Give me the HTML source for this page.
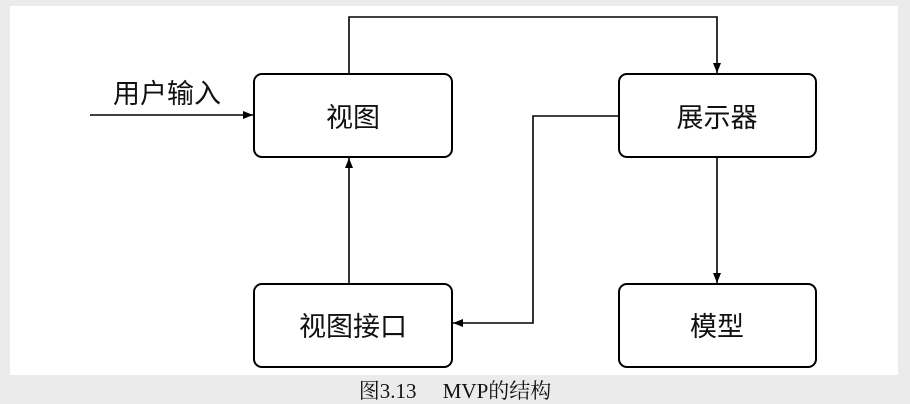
<!DOCTYPE html>
<html><head><meta charset="utf-8"><style>
html,body{margin:0;padding:0;background:#ebebeb;}
body{width:910px;height:404px;position:relative;overflow:hidden;font-family:"Liberation Serif","Noto Serif CJK SC",serif;}
</style></head><body>
<svg width="910" height="404" xmlns="http://www.w3.org/2000/svg" style="position:absolute;left:0;top:0">
<defs><marker id="a" markerWidth="10" markerHeight="8" refX="10" refY="4" orient="auto" markerUnits="userSpaceOnUse"><path d="M0,0 L10,4 L0,8 Z" fill="#000"/></marker></defs>
<rect x="10" y="6" width="888" height="369" fill="#fff"/>
<g fill="none" stroke="#000" stroke-width="2">
<rect x="254" y="74" width="198" height="83" rx="8"/>
<rect x="619" y="74" width="197" height="83" rx="8"/>
<rect x="254" y="284" width="198" height="83" rx="8"/>
<rect x="619" y="284" width="197" height="83" rx="8"/>
</g>
<g fill="none" stroke="#000" stroke-width="1.6">
<path d="M349,74 V17 H717 V73" marker-end="url(#a)"/>
<path d="M90,115 H253" marker-end="url(#a)"/>
<path d="M349,284 V158" marker-end="url(#a)"/>
<path d="M619,116 H533 V323 H453" marker-end="url(#a)"/>
<path d="M717,157 V283" marker-end="url(#a)"/>
</g>
<g font-family="Liberation Sans,Noto Sans CJK SC,sans-serif" font-size="27" text-anchor="middle" fill="#111">
<text x="353" y="127">视图</text>
<text x="717" y="127">展示器</text>
<text x="353" y="336">视图接口</text>
<text x="717" y="336">模型</text>
<text x="167" y="103" font-size="27">用户输入</text>
</g>
<text x="455" y="398" font-size="21" text-anchor="middle" fill="#111" font-family="Liberation Serif,Noto Serif CJK SC,serif">图3.13　 MVP的结构</text>
</svg>
</body></html>
